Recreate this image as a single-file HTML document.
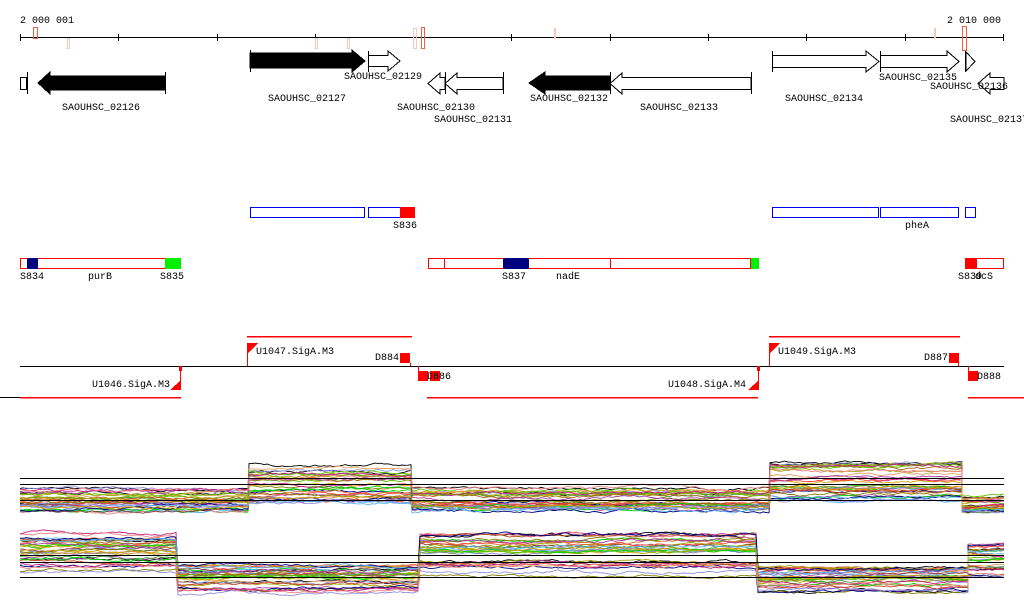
<!DOCTYPE html>
<html><head><meta charset="utf-8"><style>
html,body{margin:0;padding:0;background:#fff;width:1024px;height:611px;overflow:hidden}
svg{display:block}
text{font-family:"Liberation Mono","DejaVu Sans Mono",monospace;font-size:10px;fill:#000}
</style></head><body>
<svg id="s" width="1024" height="611" viewBox="0 0 1024 611" xmlns="http://www.w3.org/2000/svg" shape-rendering="crispEdges">
<text x="20" y="23">2 000 001</text>
<text x="947" y="23">2 010 000</text>
<line x1="20" y1="37.5" x2="1004" y2="37.5" stroke="#000"/>
<g stroke="#000">
<line x1="20.5" y1="34" x2="20.5" y2="41"/><line x1="118.5" y1="34" x2="118.5" y2="41"/><line x1="217.5" y1="34" x2="217.5" y2="41"/><line x1="315.5" y1="34" x2="315.5" y2="41"/><line x1="413.5" y1="34" x2="413.5" y2="41"/><line x1="511.5" y1="34" x2="511.5" y2="41"/><line x1="610.5" y1="34" x2="610.5" y2="41"/><line x1="708.5" y1="34" x2="708.5" y2="41"/><line x1="806.5" y1="34" x2="806.5" y2="41"/><line x1="905.5" y1="34" x2="905.5" y2="41"/><line x1="1003.5" y1="34" x2="1003.5" y2="41"/>
</g>
<g fill="none">
<rect x="33.5" y="27.5" width="4" height="11" stroke="#f06040"/>
<rect x="67.5" y="38.5" width="2" height="10" stroke="#f8c8b8"/>
<rect x="315.5" y="38.5" width="2" height="10" stroke="#f8c8b8"/>
<rect x="347.5" y="38.5" width="2" height="10" stroke="#f8c8b8"/>
<rect x="413.5" y="28.5" width="3" height="20" stroke="#f8c8b8"/>
<rect x="421.5" y="27.5" width="3" height="21" stroke="#f06040"/>
<rect x="554.5" y="28.5" width="1" height="10" stroke="#f8c8b8"/>
<rect x="934.5" y="28.5" width="1" height="10" stroke="#f8c8b8"/>
<rect x="962.5" y="26.5" width="4" height="24" stroke="#f06040"/>
</g>
<g stroke="#000" fill="#fff">
<rect x="20.5" y="77.5" width="6" height="12"/>
<line x1="27.5" y1="72" x2="27.5" y2="94"/>
<polygon points="38,83 50,72 50,76 165,76 165,90 50,90 50,94" fill="#000"/>
<line x1="165.5" y1="72" x2="165.5" y2="94"/>
<polygon points="250,53 352,53 352,50 365,61 352,72 352,68 250,68" fill="#000"/>
<line x1="250.5" y1="50" x2="250.5" y2="72"/>
<polygon points="368.5,55.5 388,55.5 388,51 400,61 388,71 388,66.5 368.5,66.5"/>
<line x1="368.5" y1="51" x2="368.5" y2="72"/>
<polygon points="428,83.5 440,73 440,77.5 445,77.5 445,89.5 440,89.5 440,94"/>
<polygon points="445,83.5 457,73 457,77.5 503,77.5 503,89.5 457,89.5 457,94"/>
<line x1="445.5" y1="72" x2="445.5" y2="94"/><line x1="503.5" y1="72" x2="503.5" y2="94"/>
<polygon points="529,83 545,72 545,76 610,76 610,90 545,90 545,94" fill="#000"/>
<polygon points="610,83.5 622,73 622,77.5 751,77.5 751,89.5 622,89.5 622,94"/>
<line x1="610.5" y1="72" x2="610.5" y2="94"/><line x1="751.5" y1="72" x2="751.5" y2="94"/>
<polygon points="772.5,55.5 866,55.5 866,51 879,61.5 866,72 866,67.5 772.5,67.5"/>
<line x1="772.5" y1="51" x2="772.5" y2="72"/>
<polygon points="880.5,55.5 947,55.5 947,51 959,61.5 947,72 947,67.5 880.5,67.5"/>
<line x1="880.5" y1="51" x2="880.5" y2="72"/>
<polygon points="966,52 975,61.5 966,71"/>
<line x1="965.5" y1="51" x2="965.5" y2="72"/>
<polygon points="978,83.5 990,73 990,77.5 1004,77.5 1004,89.5 990,89.5 990,94"/>
</g>
<text x="62" y="110">SAOUHSC_02126</text>
<text x="268" y="101">SAOUHSC_02127</text>
<text x="344" y="79">SAOUHSC_02129</text>
<text x="397" y="110">SAOUHSC_02130</text>
<text x="434" y="122">SAOUHSC_02131</text>
<text x="530" y="101">SAOUHSC_02132</text>
<text x="640" y="110">SAOUHSC_02133</text>
<text x="785" y="101">SAOUHSC_02134</text>
<text x="879" y="80">SAOUHSC_02135</text>
<text x="930" y="89">SAOUHSC_02136</text>
<text x="950" y="122">SAOUHSC_02137</text>
<g fill="none" stroke="#0000f0">
<rect x="250.5" y="207.5" width="114" height="10"/>
<rect x="368.5" y="207.5" width="46" height="10"/>
<rect x="772.5" y="207.5" width="106" height="10"/>
<rect x="880.5" y="207.5" width="78" height="10"/>
<rect x="965.5" y="207.5" width="10" height="10"/>
</g>
<rect x="400" y="207" width="15" height="11" fill="#f00"/>
<text x="393" y="228">S836</text>
<text x="905" y="228">pheA</text>
<g fill="none" stroke="#f00">
<rect x="20.5" y="258.5" width="160" height="10"/>
<rect x="428.5" y="258.5" width="16" height="10"/>
<rect x="444.5" y="258.5" width="166" height="10"/>
<rect x="610.5" y="258.5" width="140" height="10"/>
<rect x="965.5" y="258.5" width="38" height="10"/>
</g>
<rect x="27" y="258" width="11" height="11" fill="#000080"/>
<rect x="165" y="258" width="16" height="11" fill="#00f000"/>
<rect x="503" y="258" width="26" height="11" fill="#000080"/>
<rect x="751" y="258" width="8" height="11" fill="#00f000"/>
<rect x="965" y="258" width="12" height="11" fill="#f00"/>
<text x="20" y="279">S834</text><text x="88" y="279">purB</text><text x="160" y="279">S835</text>
<text x="502" y="279">S837</text><text x="556" y="279">nadE</text>
<text x="958" y="279">S839</text><text x="975" y="279">dcS</text>
<line x1="20" y1="366.5" x2="1004" y2="366.5" stroke="#000"/>
<line x1="0" y1="397.5" x2="20" y2="397.5" stroke="#000"/>
<g stroke="#ff0000" stroke-width="1.5">
<line x1="247" y1="336.5" x2="412" y2="336.5"/>
<line x1="769" y1="336.5" x2="960" y2="336.5"/>
<line x1="20" y1="397.5" x2="181" y2="397.5"/>
<line x1="427" y1="397.5" x2="758" y2="397.5"/>
<line x1="968" y1="397.5" x2="1024" y2="397.5"/>
</g>
<g stroke="#f00">
<line x1="247.5" y1="343" x2="247.5" y2="366"/>
<line x1="769.5" y1="343" x2="769.5" y2="366"/>
<line x1="180.5" y1="366" x2="180.5" y2="390"/>
<line x1="758.5" y1="366" x2="758.5" y2="390"/>
</g>
<g fill="#f00">
<polygon points="247,343 258,343 247,354"/>
<polygon points="769,343 780,343 769,354"/>
<polygon points="181,380 181,390 170,390"/>
<polygon points="759,380 759,390 748,390"/>
<rect x="179" y="366" width="3" height="5"/>
<rect x="757" y="366" width="3" height="5"/>
<rect x="400" y="353" width="10" height="10"/>
<rect x="949" y="353" width="10" height="10"/>
<rect x="418" y="371" width="10" height="10"/>
<rect x="430" y="371" width="10" height="10"/>
<rect x="968" y="371" width="10" height="10"/>
</g>
<g fill="none" stroke="#f00"><line x1="410.5" y1="363" x2="410.5" y2="366"/><line x1="418.5" y1="366" x2="418.5" y2="371"/><line x1="958.5" y1="363" x2="958.5" y2="366"/><line x1="968.5" y1="366" x2="968.5" y2="371"/></g>
<text x="256" y="354">U1047.SigA.M3</text>
<text x="92" y="387">U1046.SigA.M3</text>
<text x="375" y="360">D884</text>
<text x="427" y="379">D886</text>
<text x="778" y="354">U1049.SigA.M3</text>
<text x="668" y="387">U1048.SigA.M4</text>
<text x="924" y="360">D887</text>
<text x="977" y="379">D888</text>
<g id="expr" shape-rendering="auto"></g>
<g stroke="#000">
<line x1="20" y1="478.5" x2="1004" y2="478.5"/>
<line x1="20" y1="484.5" x2="1004" y2="484.5"/>
<line x1="20" y1="500.5" x2="1004" y2="500.5"/>
<line x1="20" y1="555.5" x2="1004" y2="555.5"/>
<line x1="20" y1="562.5" x2="1004" y2="562.5"/>
<line x1="20" y1="577.5" x2="1004" y2="577.5"/>
</g>
</svg>
<script>
(function(){
var seed=11;function r(){seed=(seed*16807)%2147483647;return seed/2147483647;}
var cols=["#e07030","#c04020","#808000","#a0a000","#60c000","#00d000","#a040a0","#c02080","#000080","#60b0f0","#9090e0","#f08080","#d0a000","#804040","#ff4040","#40a040","#b06020","#8080c0","#e0a060"];
var T1=[[20,249,489,512],[249,412,465,503],[412,770,488,511],[770,962,463,500],[962,1004,497,512]];
var T2=[[20,178,533,572],[178,420,566,593],[420,758,535,576],[758,968,568,593],[968,1004,545,576]];
var g=document.getElementById("expr"),ns="http://www.w3.org/2000/svg";
function track(T){
 for(var i=0;i<32;i++){
  var f=r(),pts=[],n=0,c=cols[i%cols.length];
  if(i<2)c="#000";
  for(var s=0;s<T.length;s++){
   var seg=T[s],ff=Math.min(1,Math.max(0,f+(r()-0.5)*0.4));
   for(var x=seg[0];x<=seg[1];x+=3){
     n+=(r()-0.5)*2.2; n*=0.88;
     var y=seg[2]+ff*(seg[3]-seg[2])+n;
     pts.push(x+","+y.toFixed(1));
   }
  }
  var p=document.createElementNS(ns,"polyline");
  p.setAttribute("points",pts.join(" "));p.setAttribute("fill","none");
  p.setAttribute("stroke",c);p.setAttribute("stroke-width","0.9");
  g.appendChild(p);
 }
}
track(T1);track(T2);
})();
</script>
</body></html>
